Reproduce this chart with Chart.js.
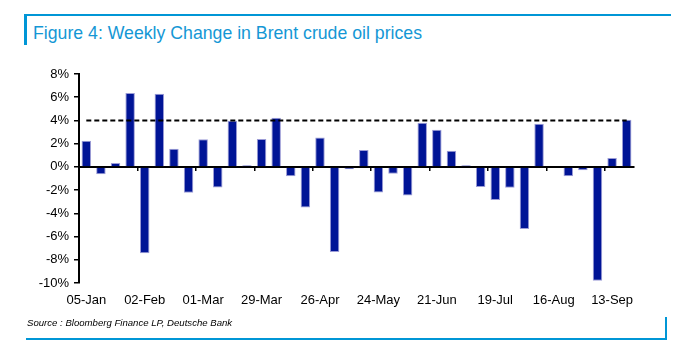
<!DOCTYPE html>
<html>
<head>
<meta charset="utf-8">
<script src="https://cdn.jsdelivr.net/npm/chart.js@4"></script>
<style>
  html, body { margin: 0; padding: 0; background: #fff; }
  body { width: 687px; height: 352px; position: relative; overflow: hidden; font-family: "Liberation Sans", Arial, sans-serif; }
  .bar { position: absolute; background: #0096d6; }
  #title { position: absolute; left: 33px; top: 23px; font-size: 17.7px; line-height: 20px; color: #1497d5; white-space: nowrap; }
  #source { position: absolute; left: 27px; top: 317px; font-size: 9.6px; line-height: 12px; font-style: italic; color: #000; white-space: nowrap; }
  canvas { position: absolute; left: 0; top: 0; }
</style>
</head>
<body>
<div class="bar" style="left:24px; top:14px; width:647px; height:2px;"></div>
<div class="bar" style="left:24px; top:14px; width:3px; height:31px;"></div>
<div id="title">Figure 4: Weekly Change in Brent crude oil prices</div>
<canvas id="c" width="687" height="352"></canvas>
<div id="source">Source : Bloomberg Finance LP, Deutsche Bank</div>
<div class="bar" style="left:26px; top:338px; width:641px; height:2px;"></div>
<div class="bar" style="left:665px; top:317px; width:2px; height:23px;"></div>
<script>
const categories = ["05-Jan","12-Jan","19-Jan","26-Jan","02-Feb","09-Feb","16-Feb","23-Feb",
  "01-Mar","08-Mar","15-Mar","22-Mar","29-Mar","05-Apr","12-Apr","19-Apr",
  "26-Apr","03-May","10-May","17-May","24-May","31-May","07-Jun","14-Jun",
  "21-Jun","28-Jun","05-Jul","12-Jul","19-Jul","26-Jul","02-Aug","09-Aug",
  "16-Aug","23-Aug","30-Aug","06-Sep","13-Sep","20-Sep"];
const weeklyChange = [2.25,-0.63,0.34,6.37,-7.43,6.29,1.57,-2.23,
  2.37,-1.77,3.97,0.14,2.4,4.23,-0.8,-3.49,
  2.54,-7.34,-0.2,1.46,-2.2,-0.6,-2.46,3.8,
  3.2,1.4,0.14,-1.74,-2.86,-1.8,-5.34,3.71,
  0,-0.8,-0.29,-9.8,0.77,4.06];
const thresholdValue = 4;
const threshold = categories.map(() => thresholdValue);
const yTicks = [-10,-8,-6,-4,-2,0,2,4,6,8];
const labelEvery = 4;

const tickFont = { family: "'Liberation Sans', Arial, sans-serif", size: 13 };

new Chart(document.getElementById('c'), {
  type: 'bar',
  data: {
    labels: categories,
    datasets: [
      {
        type: 'bar',
        data: weeklyChange,
        backgroundColor: '#001496',
        borderColor: '#9c9cd6',
        borderWidth: 1,
        categoryPercentage: 1,
        barPercentage: 0.65,
        order: 2
      },
      {
        type: 'line',
        data: threshold,
        borderColor: '#000',
        borderWidth: 2,
        borderDash: [5, 3],
        pointRadius: 0,
        fill: false,
        order: 1
      }
    ]
  },
  options: {
    responsive: false,
    animation: false,
    layout: { padding: { top: 74, right: 53, bottom: 39, left: 0 } },
    plugins: { legend: { display: false }, tooltip: { enabled: false } },
    scales: {
      x: {
        type: 'category',
        position: 'bottom',
        offset: true,
        grid: { display: false, drawTicks: false },
        border: { display: false },
        ticks: {
          autoSkip: false,
          maxRotation: 0,
          minRotation: 0,
          padding: 10,
          color: '#000',
          font: tickFont,
          callback: function (v, i) { return i % labelEvery === 0 ? this.getLabelForValue(v) : ''; }
        },
        afterFit: (s) => { s.height = 30; }
      },
      x2: {
        type: 'category',
        labels: categories,
        position: { y: 0 },
        offset: true,
        grid: {
          display: true,
          offset: true,
          drawOnChartArea: false,
          drawTicks: true,
          tickLength: 3,
          lineWidth: 1.5,
          color: (ctx) => (ctx.index % labelEvery === 0 ? '#000' : 'rgba(0,0,0,0)')
        },
        border: { display: true, color: '#000', width: 2 },
        ticks: { display: false }
      },
      y: {
        min: yTicks[0],
        max: yTicks[yTicks.length - 1],
        afterBuildTicks: (s) => { s.ticks = yTicks.map(v => ({ value: v })); },
        grid: { display: true, drawOnChartArea: false, drawTicks: true, tickLength: 5, color: '#000', lineWidth: 1.5 },
        border: { display: true, color: '#000', width: 2 },
        ticks: { color: '#000', font: tickFont, padding: 5, callback: (v) => v + '%' },
        afterFit: (s) => { s.width = 79; }
      }
    }
  }
});
</script>
</body>
</html>
